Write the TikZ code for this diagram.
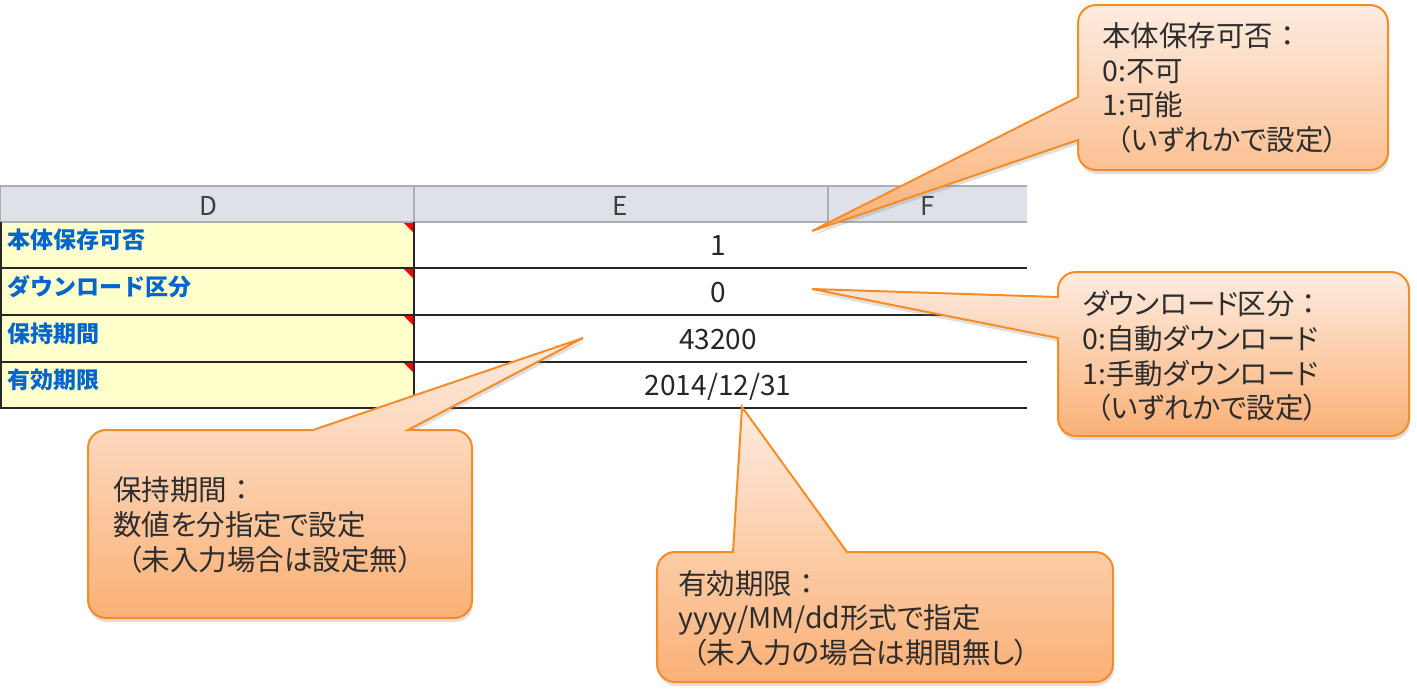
\documentclass[tikz,border=0pt]{standalone}
\usepackage{fontspec}
\newfontfamily\jpfont{Noto Sans CJK JP}
\newfontfamily\notefont[RawFeature=+palt]{Noto Sans CJK JP}
\usetikzlibrary{shadows}

\begin{document}
\begin{tikzpicture}[x=0.5pt,y=-0.5pt]
  % Local definitions
  \def\fullcolon{{\jpfont ：}}

  % Colors
  \definecolor{headgray}{RGB}{222,226,232}
  \definecolor{gridgray}{RGB}{170,175,180}
  \definecolor{cellyellow}{RGB}{255,255,204}
  \definecolor{labelblue}{RGB}{0,102,204}
  \definecolor{notetop}{RGB}{254,236,224}
  \definecolor{notebottom}{RGB}{250,176,118}
  \definecolor{noteline}{RGB}{246,140,40}
  \definecolor{notetext}{RGB}{45,45,45}

  % Styles
  \tikzstyle{grid line}=[draw=gridgray,line width=0.6pt]
  \tikzstyle{cell line}=[draw=black!85,line width=0.9pt]
  \tikzstyle{head text}=[inner sep=0pt,font=\jpfont\fontsize{13}{15}\selectfont,text=black!75]
  \tikzstyle{key text}=[anchor=west,inner sep=0pt,font=\jpfont\bfseries\fontsize{11.5}{13}\selectfont,text=labelblue]
  \tikzstyle{value text}=[inner sep=0pt,font=\jpfont\fontsize{14}{16}\selectfont,text=black!85]
  \tikzstyle{note}=[draw=noteline,line width=1pt,top color=notetop,bottom color=notebottom,
    drop shadow={opacity=0.25,shadow xshift=0.5pt,shadow yshift=-2pt}]
  \tikzstyle{note text}=[anchor=west,align=left,inner sep=0pt,
    font=\notefont\fontsize{14.25}{17.3}\selectfont,text=notetext]

  \useasboundingbox (0,0) rectangle (1417,697);

  % The sheet
  \fill[headgray] (0,186) rectangle (1027,222);
  \fill[cellyellow] (0,222) rectangle (414,408);
  \draw[grid line] (0,186) -- (1027,186);
  \draw[grid line] (0,222) -- (1027,222);
  \draw[grid line] (0,186) -- (0,222);
  \draw[grid line] (414,186) -- (414,222);
  \draw[grid line] (828,186) -- (828,222);
  \foreach \y in {268,315,362,408}
    \draw[cell line] (0,\y) -- (1027,\y);
  \draw[cell line] (1,222) -- (1,408);
  \draw[cell line] (414,222) -- (414,408);
  \foreach \y in {222,268,315,362}
    \fill[red] (404,\y+1) -- (413,\y+1) -- (413,\y+10) -- cycle;

  \node[head text] (colD) at (208,206) {D};
  \node[head text] (colE) at (620,206) {E};
  \node[head text] (colF) at (928,206) {F};

  \node[key text] (keyHontai) at (7,240) {本体保存可否};
  \node[key text] (keyDl)     at (7,287) {ダウンロード区分};
  \node[key text] (keyHoji)   at (7,334) {保持期間};
  \node[key text] (keyYuko)   at (7,380) {有効期限};

  \node[value text] (valHontai) at (718,246) {1};
  \node[value text] (valDl)     at (718,293) {0};
  \node[value text] (valHoji)   at (718,340) {43200};
  \node[value text] (valYuko)   at (718,387) {2014/12/31};

  % Callouts
  \coordinate (tipHontai) at (812,231);
  \coordinate (tipDl)     at (812,289);
  \coordinate (tipHoji)   at (583,338);
  \coordinate (tipYuko)   at (742,407);

  \path[note] (1233,5) [rounded corners=9pt] -- (1078,5) [sharp corners] -- (1078,97)
    -- (tipHontai) -- (1078,140) [rounded corners=9pt] -- (1078,170) -- (1388,170) -- (1388,5) -- cycle;
  \node[note text] (noteHontai) at (1102,88)
    {本体保存可否\fullcolon\\0:不可\\1:可能\\\hspace*{0.5em}（いずれかで設定）};

  \path[note] (1233,272) [rounded corners=9pt] -- (1058,272) [sharp corners] -- (1058,297)
    -- (tipDl) -- (1058,338) [rounded corners=9pt] -- (1058,436) -- (1409,436) -- (1409,272) -- cycle;
  \node[note text] (noteDl) at (1082,356)
    {ダウンロード区分\fullcolon\\0:自動ダウンロード\\1:手動ダウンロード\\\hspace*{0.5em}（いずれかで設定）};

  \path[note] (88,524) [rounded corners=9pt] -- (88,430) [sharp corners] -- (313,430)
    -- (tipHoji) -- (408,430) [rounded corners=9pt] -- (472,430) -- (472,618) -- (88,618) -- cycle;
  \node[note text] (noteHoji) at (113,525)
    {保持期間\fullcolon\\数値を分指定で設定\\\hspace*{0.5em}（未入力場合は設定無）};

  \path[note] (657,617) [rounded corners=9pt] -- (657,552) [sharp corners] -- (733,552)
    -- (tipYuko) -- (847,552) [rounded corners=9pt] -- (1113,552) -- (1113,682) -- (657,682) -- cycle;
  \node[note text] (noteYuko) at (678,618)
    {有効期限\fullcolon\\yyyy/MM/dd形式で指定\\\hspace*{0.5em}（未入力の場合は期間無し）};
\end{tikzpicture}
\end{document}
